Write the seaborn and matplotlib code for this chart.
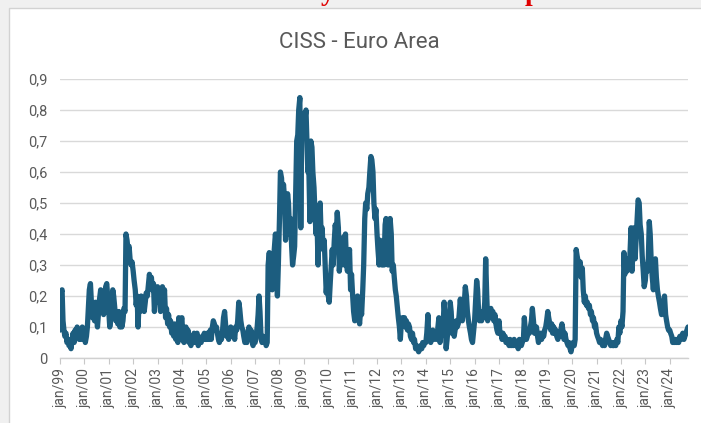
import matplotlib
matplotlib.use("Agg")
import matplotlib.pyplot as plt
from matplotlib.patches import Rectangle
import pandas as pd
import seaborn as sns

# Semi-monthly CISS readings (1st and 15th of each month)
ciss_1999_2003 = [
    0.09, 0.21, 0.22, 0.12, 0.09, 0.07, 0.08, 0.05, 0.06, 0.04, 0.05, 0.03, 0.06, 0.08, 0.05, 0.09, 0.07, 0.10, 0.07, 0.06, 0.09, 0.06, 0.10, 0.07,
    0.08, 0.05, 0.07, 0.10, 0.16, 0.22, 0.24, 0.18, 0.13, 0.17, 0.12, 0.18, 0.14, 0.10, 0.15, 0.19, 0.22, 0.17, 0.21, 0.14, 0.18, 0.23, 0.24, 0.20,
    0.15, 0.10, 0.13, 0.17, 0.22, 0.20, 0.16, 0.12, 0.14, 0.11, 0.15, 0.10, 0.13, 0.10, 0.12, 0.16, 0.15, 0.40, 0.38, 0.35, 0.36, 0.32, 0.30, 0.31,
    0.28, 0.25, 0.22, 0.17, 0.20, 0.10, 0.19, 0.15, 0.20, 0.16, 0.19, 0.15, 0.18, 0.21, 0.20, 0.23, 0.27, 0.25, 0.26, 0.22, 0.24, 0.15, 0.20, 0.18,
    0.23, 0.19, 0.22, 0.15, 0.21, 0.23, 0.17, 0.22, 0.13, 0.16, 0.11, 0.14, 0.10, 0.12, 0.08, 0.10, 0.07, 0.11, 0.06, 0.09, 0.05, 0.13, 0.08, 0.12,
]
ciss_2004_2008 = [
    0.13, 0.06, 0.05, 0.08, 0.10, 0.07, 0.09, 0.05, 0.06, 0.04, 0.07, 0.06, 0.08, 0.05, 0.07, 0.08, 0.04, 0.05, 0.06, 0.05, 0.07, 0.06, 0.08, 0.06,
    0.06, 0.08, 0.06, 0.07, 0.09, 0.06, 0.10, 0.12, 0.11, 0.09, 0.10, 0.08, 0.06, 0.05, 0.07, 0.06, 0.09, 0.13, 0.15, 0.11, 0.07, 0.08, 0.06, 0.09,
    0.10, 0.07, 0.09, 0.08, 0.06, 0.10, 0.09, 0.12, 0.18, 0.16, 0.12, 0.10, 0.09, 0.07, 0.05, 0.06, 0.05, 0.08, 0.10, 0.07, 0.09, 0.06, 0.04, 0.06,
    0.05, 0.07, 0.10, 0.14, 0.20, 0.15, 0.06, 0.05, 0.07, 0.05, 0.06, 0.04, 0.05, 0.30, 0.34, 0.28, 0.33, 0.22, 0.30, 0.35, 0.40, 0.36, 0.20, 0.30,
    0.45, 0.60, 0.58, 0.50, 0.56, 0.52, 0.38, 0.45, 0.53, 0.50, 0.40, 0.45, 0.36, 0.30, 0.33, 0.36, 0.55, 0.70, 0.72, 0.80, 0.84, 0.42, 0.78, 0.76,
]
ciss_2009_2013 = [
    0.79, 0.77, 0.80, 0.70, 0.60, 0.62, 0.44, 0.70, 0.68, 0.60, 0.55, 0.47, 0.40, 0.45, 0.30, 0.42, 0.50, 0.40, 0.42, 0.35, 0.38, 0.30, 0.21, 0.25,
    0.20, 0.18, 0.25, 0.30, 0.35, 0.30, 0.38, 0.43, 0.40, 0.47, 0.42, 0.28, 0.32, 0.30, 0.36, 0.39, 0.30, 0.40, 0.30, 0.28, 0.32, 0.35, 0.22, 0.27,
    0.20, 0.15, 0.12, 0.17, 0.14, 0.20, 0.13, 0.11, 0.16, 0.14, 0.22, 0.30, 0.45, 0.50, 0.48, 0.53, 0.55, 0.60, 0.65, 0.64, 0.60, 0.50, 0.45, 0.48,
    0.40, 0.35, 0.30, 0.38, 0.32, 0.30, 0.35, 0.30, 0.43, 0.45, 0.38, 0.30, 0.42, 0.45, 0.40, 0.28, 0.30, 0.26, 0.22, 0.20, 0.16, 0.13, 0.10, 0.06,
    0.12, 0.13, 0.11, 0.13, 0.10, 0.12, 0.09, 0.11, 0.10, 0.07, 0.06, 0.08, 0.05, 0.06, 0.03, 0.04, 0.03, 0.02, 0.03, 0.04, 0.03, 0.05, 0.04, 0.05,
]
ciss_2014_2018 = [
    0.05, 0.08, 0.14, 0.06, 0.08, 0.05, 0.07, 0.09, 0.06, 0.07, 0.08, 0.06, 0.10, 0.13, 0.05, 0.08, 0.12, 0.09, 0.18, 0.14, 0.03, 0.06, 0.10, 0.08,
    0.18, 0.15, 0.08, 0.10, 0.07, 0.09, 0.12, 0.10, 0.11, 0.14, 0.19, 0.15, 0.12, 0.15, 0.18, 0.23, 0.20, 0.15, 0.12, 0.10, 0.08, 0.06, 0.05, 0.08,
    0.12, 0.18, 0.25, 0.22, 0.15, 0.12, 0.14, 0.12, 0.15, 0.13, 0.18, 0.32, 0.20, 0.12, 0.15, 0.14, 0.16, 0.13, 0.15, 0.12, 0.14, 0.11, 0.09, 0.08,
    0.12, 0.08, 0.08, 0.06, 0.08, 0.06, 0.07, 0.05, 0.06, 0.05, 0.04, 0.06, 0.04, 0.05, 0.04, 0.06, 0.05, 0.04, 0.05, 0.03, 0.06, 0.05, 0.04, 0.05,
    0.06, 0.13, 0.08, 0.06, 0.07, 0.09, 0.08, 0.10, 0.12, 0.16, 0.12, 0.08, 0.09, 0.10, 0.07, 0.05, 0.07, 0.08, 0.06, 0.08, 0.07, 0.09, 0.10, 0.12,
]
ciss_2019_2024 = [
    0.15, 0.13, 0.11, 0.09, 0.11, 0.08, 0.10, 0.08, 0.09, 0.07, 0.06, 0.08, 0.07, 0.09, 0.11, 0.09, 0.06, 0.08, 0.06, 0.05, 0.04, 0.05, 0.03, 0.02,
    0.04, 0.05, 0.04, 0.06, 0.35, 0.33, 0.31, 0.28, 0.31, 0.26, 0.29, 0.22, 0.18, 0.20, 0.17, 0.18, 0.16, 0.17, 0.14, 0.15, 0.12, 0.13, 0.10, 0.11,
    0.08, 0.07, 0.06, 0.05, 0.06, 0.05, 0.04, 0.05, 0.04, 0.06, 0.08, 0.07, 0.06, 0.05, 0.04, 0.05, 0.04, 0.04, 0.05, 0.04, 0.06, 0.05, 0.10, 0.08,
    0.12, 0.10, 0.15, 0.34, 0.27, 0.30, 0.28, 0.32, 0.30, 0.33, 0.42, 0.28, 0.35, 0.42, 0.32, 0.38, 0.45, 0.51, 0.50, 0.43, 0.40, 0.33, 0.28, 0.23,
    0.25, 0.30, 0.28, 0.32, 0.44, 0.40, 0.30, 0.26, 0.22, 0.28, 0.32, 0.26, 0.22, 0.20, 0.18, 0.16, 0.14, 0.15, 0.17, 0.20, 0.14, 0.12, 0.10, 0.09,
    0.09, 0.08, 0.07, 0.05, 0.06, 0.05, 0.06, 0.05, 0.06, 0.05, 0.07, 0.06, 0.07, 0.08, 0.06, 0.07, 0.08, 0.09, 0.10,
]

tick_years = list(range(1999, 2025))
x_tick_labels = ["jan/99", "jan/00", "jan/01", "jan/02", "jan/03", "jan/04", "jan/05",
                 "jan/06", "jan/07", "jan/08", "jan/09", "jan/10", "jan/11", "jan/12",
                 "jan/13", "jan/14", "jan/15", "jan/16", "jan/17", "jan/18", "jan/19",
                 "jan/20", "jan/21", "jan/22", "jan/23", "jan/24"]
y_ticks = [0, 0.1, 0.2, 0.3, 0.4, 0.5, 0.6, 0.7, 0.8, 0.9]
y_tick_labels = ["0", "0,1", "0,2", "0,3", "0,4", "0,5", "0,6", "0,7", "0,8", "0,9"]
title = "CISS - Euro Area"

values = ciss_1999_2003 + ciss_2004_2008 + ciss_2009_2013 + ciss_2014_2018 + ciss_2019_2024
dates = pd.date_range("1999-01-01", periods=len(values), freq="SMS")
df = pd.DataFrame({"date": dates, "ciss": values})

sns.set_theme(style="white")
plt.rcParams["font.family"] = ["Roboto", "DejaVu Sans"]

W, H = 701, 423
fig = plt.figure(figsize=(W / 100, H / 100), dpi=100, facecolor="#f0f0f0")
fig.patches.append(Rectangle((9 / W, -0.02), 1.0, 1 - 8 / H + 0.02, transform=fig.transFigure,
                             facecolor="white", edgecolor="#d2d2d2", linewidth=1, zorder=-10))

ax = fig.add_axes([60 / W, 1 - 358 / H, (688 - 60) / W, (358 - 79) / H])
ax.set_zorder(5)
ax.set_facecolor("none")
ax.patch.set_alpha(0)
ax.set_axisbelow(True)
sns.lineplot(data=df, x="date", y="ciss", color="#1c5d7f", linewidth=3.8, ax=ax)

ax.set_ylim(0, 0.9)
ax.set_xlim(dates[0], dates[-1])
ax.set_yticks(y_ticks)
ax.set_yticklabels(y_tick_labels)
ax.set_xticks([pd.Timestamp(f"{y}-01-01") for y in tick_years])
ax.set_xticklabels(x_tick_labels, rotation=90)
ax.grid(axis="y", color="#d9d9d9", linewidth=1)
ax.grid(axis="x", visible=False)
for s in ["top", "right", "left"]:
    ax.spines[s].set_visible(False)
ax.spines["bottom"].set_color("#d0d0d0")
ax.spines["bottom"].set_linewidth(1)
ax.tick_params(axis="y", length=0, pad=9, labelsize=10.5, labelcolor="#595959")
ax.tick_params(axis="x", bottom=True, length=4.5, width=0.8, color="#c8c8c8",
               labelsize=10, labelcolor="#595959", pad=3)
ax.set_xlabel("")
ax.set_ylabel("")

fig.text(359 / W, 1 - 42 / H, title, ha="center", va="center", fontsize=16, color="#595959")

# fragments of the cropped red heading above the chart
fig.text(328 / W, 1.0, "y", ha="center", va="baseline", fontsize=20, fontweight="bold",
         color="#e00000", family=["Liberation Serif", "DejaVu Serif"])
fig.text(532 / W, 1.0, "p", ha="center", va="baseline", fontsize=20, fontweight="bold",
         color="#e00000", family=["Liberation Serif", "DejaVu Serif"])

fig.savefig("out.png", dpi=100, facecolor=fig.get_facecolor())
